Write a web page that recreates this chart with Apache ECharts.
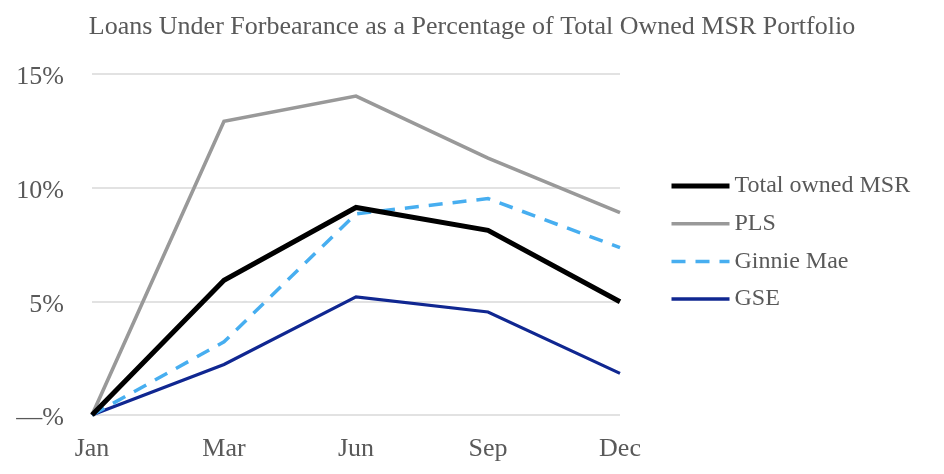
<!DOCTYPE html>
<html>
<head>
<meta charset="utf-8">
<script src="https://cdn.jsdelivr.net/npm/echarts@6/dist/echarts.min.js"></script>
<style>html,body{margin:0;padding:0;background:#fff}#c{width:944px;height:474px}</style>
</head>
<body>
<div id="c"></div>
<script>
var titleText = 'Loans Under Forbearance as a Percentage of Total Owned MSR Portfolio';
var months = ['Jan', 'Mar', 'Jun', 'Sep', 'Dec'];
var totalOwned = [0, 5.93, 9.13, 8.12, 4.98];
var pls = [0, 12.92, 14.03, 11.3, 8.9];
var ginnieMae = [0, 3.22, 8.85, 9.52, 7.36];
var gse = [0, 2.22, 5.2, 4.53, 1.83];
var yTicks = {0: '—%', 5: '5%', 10: '10%', 15: '15%'};

var font = '"Liberation Serif", "Times New Roman", serif';
var chart = echarts.init(document.getElementById('c'));
function mk(name, data, color, width, type) {
  return {
    name: name, type: 'line', data: data, symbol: 'none', showSymbol: false,
    lineStyle: {color: color, width: width, type: type || 'solid', cap: 'butt', join: 'miter'},
    itemStyle: {color: color}, animation: false
  };
}
chart.setOption({
  animation: false,
  title: {
    text: titleText, left: 'center', top: 9,
    textStyle: {fontFamily: font, fontSize: 26, fontWeight: 'normal', color: '#595959'}
  },
  legend: {
    orient: 'vertical', left: 664, top: 169, itemWidth: 58, itemHeight: 14, itemGap: 13.7,
    itemStyle: {opacity: 0},
    textStyle: {fontFamily: font, fontSize: 24, color: '#595959'},
    data: [
      {name: 'Total owned MSR', lineStyle: {width: 5}},
      {name: 'PLS', lineStyle: {width: 3.5}},
      {name: 'Ginnie Mae', lineStyle: {width: 3.5, type: [14, 10]}},
      {name: 'GSE', lineStyle: {width: 3.5}}
    ]
  },
  grid: {left: 92, right: 324, top: 74, bottom: 59, containLabel: false},
  xAxis: {
    type: 'category', data: months, boundaryGap: false,
    axisLine: {show: false}, axisTick: {show: false},
    axisLabel: {fontFamily: font, fontSize: 26, color: '#595959', margin: 21}
  },
  yAxis: {
    type: 'value', min: 0, max: 15, interval: 5,
    axisLine: {show: false}, axisTick: {show: false},
    splitLine: {lineStyle: {color: '#d9d9d9', width: 1.5}},
    axisLabel: {fontFamily: font, fontSize: 26, color: '#595959', margin: 28,
      verticalAlign: 'top', lineHeight: 7,
      formatter: function (v) { return yTicks[v]; }}
  },
  series: [
    mk('PLS', pls, '#999999', 3.6),
    mk('GSE', gse, '#102791', 3.2),
    mk('Ginnie Mae', ginnieMae, '#47aef0', 3.5, [14, 10]),
    mk('Total owned MSR', totalOwned, '#000000', 5)
  ]
});
</script>
</body>
</html>
